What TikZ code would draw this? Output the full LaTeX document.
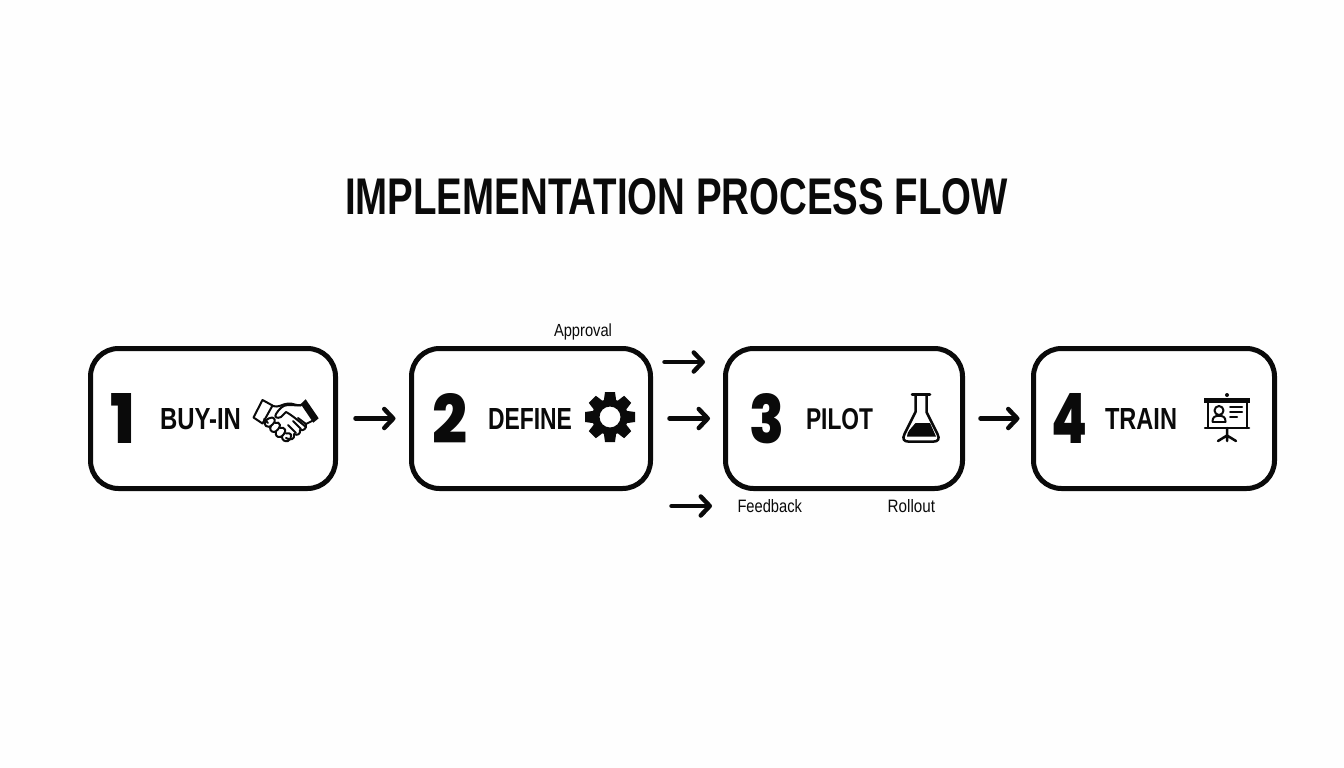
\documentclass[tikz,border=0pt]{standalone}
\usepackage{graphicx}
\usepackage{fontspec}
\setmainfont{Liberation Sans}
\newfontfamily\numfont[BoldFont={Poppins ExtraBold}]{Poppins}
\usetikzlibrary{arrows.meta}
\newcommand{\fitb}[3]{\resizebox{#1pt}{#2pt}{#3}}
\definecolor{ink}{HTML}{0A0A0A}
\definecolor{paper}{HTML}{FEFEFE}
\tikzset{
  stepbox/.style={draw=ink,line width=5pt,rounded corners=28pt,inner sep=0pt,outer sep=0pt,fill=white},
  flow/.style={draw=ink,line width=4.5pt,line cap=round,-{Straight Barb[round,length=9pt,width=19pt,line width=4.5pt]}},
  lbl/.style={anchor=base west,inner sep=0pt,outer sep=0pt,text=ink},
  icon/.style={draw=ink,line width=2pt,line join=round,line cap=round},
}
\begin{document}
\begin{tikzpicture}[x=1pt,y=-1pt]
\useasboundingbox (0,0) rectangle (1344,768);
\fill[paper] (0,0) rectangle (1344,768);
\node[lbl] (title) at (345,214) {\fitb{663}{36}{\bfseries IMPLEMENTATION PROCESS FLOW}};

\node[stepbox,minimum width=245pt,minimum height=140pt] (b1) at (213,418.5) {};
\node[stepbox,minimum width=239pt,minimum height=140pt] (b2) at (531,418.5) {};
\node[stepbox,minimum width=237pt,minimum height=140pt] (b3) at (844,418.5) {};
\node[stepbox,minimum width=241pt,minimum height=140pt] (b4) at (1154,418.5) {};

\node[lbl] (n1) at (110,443) {\fitb{25}{50}{\numfont\bfseries 1}};
\node[lbl] (n2) at (432,443) {\fitb{35}{50}{\numfont\bfseries 2}};
\node[lbl] (n3) at (749,443) {\fitb{35}{50}{\numfont\bfseries 3}};
\node[lbl] (n4) at (1051,443) {\fitb{36}{50}{\numfont\bfseries 4}};

\node[lbl] (t1) at (160,429) {\fitb{81}{21}{\bfseries BUY-IN}};
\node[lbl] (t2) at (488,429) {\fitb{84}{21}{\bfseries DEFINE}};
\node[lbl] (t3) at (806,429) {\fitb{67}{21}{\bfseries PILOT}};
\node[lbl] (t4) at (1105,429) {\fitb{72}{21}{\bfseries TRAIN}};

\node[lbl] (approval) at (554,336.7) {\fitb{58}{12.7}{Approval}};
\node[lbl] (feedback) at (737.5,512.3) {\fitb{64.5}{13}{Feedback}};
\node[lbl] (rollout) at (887.7,512.3) {\fitb{47.3}{13}{Rollout}};

% connectors
\draw[flow,shorten <=20pt,shorten >=16pt] (b1.east) -- (b2.west);
\draw[flow,shorten <=19pt,shorten >=15.5pt] (b2.east) -- (b3.west);
\draw[flow,shorten <=18pt,shorten >=14pt] (b3.east) -- (b4.west);
\coordinate (as) at (664.5,362);
\coordinate (ae) at (705,362);
\coordinate (fs) at (671.5,506);
\coordinate (fe) at (712,506);
\draw[flow] (as) -- (ae);
\draw[flow] (fs) -- (fe);

% handshake
\begin{scope}[icon]
  \draw (262.5,400) -- (272.5,405.5) -- (262.5,423.5) -- (253.5,417.5) -- cycle;
  \fill[ink] (305.7,399.3) -- (318.7,418.3) -- (313.3,422.7) -- (300.7,404) -- cycle;
  \draw (272.5,406) .. controls (279,408) and (282,404) .. (288,403.5) .. controls (293,403) and (296,406) .. (301,405);
  \draw (301,405.5) -- (288,405) .. controls (283,405) and (279,409) .. (276,414) .. controls (274,417) and (277,419) .. (281,417) -- (286,412) .. controls (292,415) and (301,423) .. (306,427);
  \draw (312,421) -- (306,424) .. controls (307,429) and (303,431) .. (300,430);
  \draw (300,430) .. controls (301,434) and (297,436) .. (294,434);
  \draw (294,434.5) .. controls (295,439) and (291,441) .. (286,438);
  \draw (264,419) -- (268,423);
  \draw (268.5,418.5) .. controls (265.5,420) and (263.5,424) .. (266,426) .. controls (268,428) and (270,427) .. (273,424) .. controls (276,421) and (275,418) .. (272,417.5) .. controls (271,417.5) and (270,418) .. (268.5,418.5);
  \draw (271,426) .. controls (269,429) and (271,432) .. (274,432) .. controls (276,432) and (280,428) .. (280,425) .. controls (280,423) and (277,421.5) .. (275,423);
  \draw (276,432) .. controls (275,435) and (277,437.5) .. (280,437) .. controls (283,436.5) and (286,432) .. (285,429.5) .. controls (284.5,428) and (282,427) .. (280,428);
  \draw (282,437) .. controls (282,440) and (285,442) .. (288,441) .. controls (290,440) and (292,437) .. (291,434.5) .. controls (290.5,433.5) and (288,432.5) .. (286,433.5);
  \draw (288,425) -- (296,433);
  \draw (293,421) -- (301,429);
  \draw (298,418) -- (306,424);
\end{scope}

% gear
\begin{scope}[shift={(610,417)}]
  \foreach \a in {0,45,...,315}{
    \fill[ink,rotate=\a] (-5,-25) -- (5,-25) -- (6.5,-14) -- (-6.5,-14) -- cycle;
  }
  \fill[ink,even odd rule] (0,0) circle (18pt) (0,0) circle (10.5pt);
\end{scope}

% flask
\fill[ink] (915.5,423) -- (930,423) -- (936,436.5) -- (907,436.5) .. controls (907,434) and (908,432) .. (909.5,430) -- cycle;
\draw[icon,line width=2.5pt] (912,394.5) -- (930,394.5);
\draw[icon,line width=2.5pt] (915.5,395) -- (915.5,412) -- (904.5,434) .. controls (902,439) and (904,441.5) .. (908,441.5) -- (934,441.5) .. controls (938,441.5) and (940,439) .. (937.5,434) -- (926.5,412) -- (926.5,395);

% presentation board
\fill[ink] (1227,395) circle (2pt);
\fill[ink] (1204,398) rectangle (1250,402.5);
\draw[icon] (1207.5,401) -- (1207.5,428) (1246.5,401) -- (1246.5,428);
\draw[icon,line width=2.5pt] (1205,428) -- (1249,428);
\draw[icon,line width=2.5pt] (1227,428) -- (1227,436) (1218,441) -- (1227,435.5) -- (1236,441) (1227,435.5) -- (1227,441);
\draw[icon] (1219,410.5) circle (4.5pt);
\draw[icon] (1212.5,421.5) .. controls (1212.5,417) and (1215,415.8) .. (1219,415.8) .. controls (1223,415.8) and (1225.5,417) .. (1225.5,421.5);
\draw[icon] (1212.5,421.5) -- (1225.5,421.5);
\draw[icon] (1230,407) -- (1242,407) (1230,412) -- (1242,412) (1230,417) -- (1237,417);
\end{tikzpicture}
\end{document}
